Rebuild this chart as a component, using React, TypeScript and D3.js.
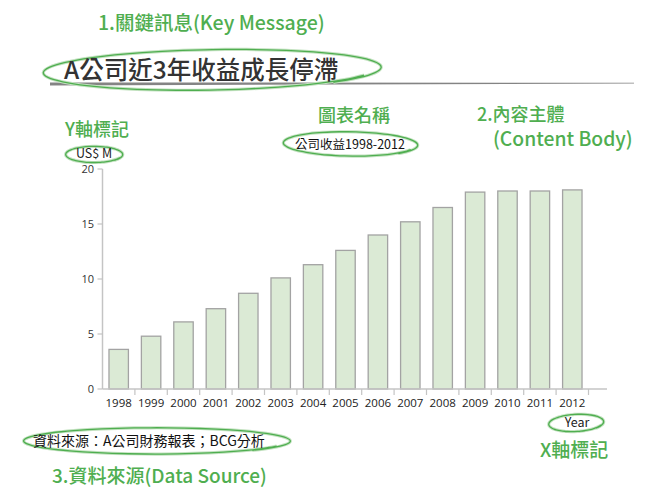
import React from "react";
import * as d3 from "d3";

// chart data
const years = ["1998", "1999", "2000", "2001", "2002", "2003", "2004", "2005", "2006", "2007", "2008", "2009", "2010", "2011", "2012"];
const revenue = [3.6, 4.8, 6.1, 7.3, 8.7, 10.1, 11.3, 12.6, 14.0, 15.2, 16.5, 17.9, 18.0, 18.0, 18.1];
const yTicks = [0, 5, 10, 15, 20];

const GREEN = "#4fae50";
const CJK = "'Noto Sans CJK TC', 'Noto Sans', sans-serif";

// a loose hand-drawn looking oval
const Oval = ({ cx, cy, rx, ry, rot = -2 }: { cx: number; cy: number; rx: number; ry: number; rot?: number }) => {
  const pts: [number, number][] = d3.range(0, 1.08, 0.02).map((t) => {
    const a = t * Math.PI * 2 + 0.4;
    const k = 1 + 0.03 * t;
    return [cx + rx * k * Math.cos(a), cy + ry * k * Math.sin(a)];
  });
  const line = d3.line().curve(d3.curveBasis);
  return (
    <g transform={`rotate(${rot}, ${cx}, ${cy})`}>
      <path d={line(pts) || ""} fill="none" stroke="#c3e2c0" strokeWidth={3.2} />
      <path d={line(pts) || ""} fill="none" stroke={GREEN} strokeWidth={1.3} />
    </g>
  );
};

const App = () => {
  const margin = { left: 102.5, top: 169, bottom: 389 };
  const x = d3
    .scaleBand()
    .domain(years)
    .range([margin.left, 588.5])
    .paddingInner(0.4)
    .paddingOuter(0.2);
  const y = d3.scaleLinear().domain([0, 20]).range([margin.bottom, margin.top]);
  const step = x.step();

  return (
    <svg
      width={667}
      height={504}
      style={{ position: "absolute", left: 0, top: 0, background: "#fff" }}
    >
      {/* key message */}
      <text x={98} y={30} fontFamily={CJK} fontSize={19.5} fontWeight={500} fill={GREEN}>
        1.關鍵訊息(Key Message)
      </text>
      <path d="M50,82.5 L634,82.8 L634,83.5 L50,85.5 Z" fill="#6f6f6f" opacity={0.85} />
      <Oval cx={211} cy={70} rx={166} ry={20} rot={-1} />
      <text x={64} y={79} fontFamily={CJK} fontSize={24.5} fontWeight={500} fill="#333">
        A公司近3年收益成長停滯
      </text>

      {/* annotations */}
      <text x={65} y={136} fontFamily={CJK} fontSize={18} fontWeight={500} fill={GREEN}>Y軸標記</text>
      <Oval cx={94} cy={154.5} rx={28} ry={8} rot={0} />
      <text x={94} y={158} textAnchor="middle" fontFamily={CJK} fontSize={12.5} fill="#222">US$ M</text>

      <text x={354} y={122} textAnchor="middle" fontFamily={CJK} fontSize={18} fontWeight={500} fill={GREEN}>圖表名稱</text>
      <Oval cx={350} cy={144} rx={66} ry={12} rot={1} />
      <text x={350} y={149} textAnchor="middle" fontFamily={CJK} fontSize={12.5} fill="#111">公司收益1998-2012</text>

      <text x={477} y={121} fontFamily={CJK} fontSize={18} fontWeight={500} fill={GREEN}>2.內容主體</text>
      <text x={493} y={146} fontFamily={CJK} fontSize={19.3} fontWeight={500} fill={GREEN}>(Content Body)</text>

      {/* bars */}
      {years.map((yr, i) => (
        <rect
          key={yr}
          x={x(yr)}
          y={y(revenue[i])}
          width={x.bandwidth()}
          height={y(0) - y(revenue[i])}
          fill="#dbead5"
          stroke="#a3a3a3"
          strokeWidth={1.3}
        />
      ))}

      {/* y axis */}
      <line x1={margin.left} x2={margin.left} y1={y(20)} y2={y(0)} stroke="#c4c4c4" strokeWidth={1.5} />
      {yTicks.map((t) => (
        <g key={t}>
          <line x1={margin.left - 5} x2={margin.left} y1={y(t)} y2={y(t)} stroke="#c4c4c4" strokeWidth={1.2} />
          <text x={94} y={y(t) + 4} textAnchor="end" fontFamily="'Open Sans', sans-serif" fontSize={11} fill="#333">
            {t}
          </text>
        </g>
      ))}

      {/* x axis */}
      <line x1={margin.left} x2={607} y1={y(0)} y2={y(0)} stroke="#c4c4c4" strokeWidth={1.5} />
      {years.map((yr, i) => (
        <g key={yr}>
          <line
            x1={x.range()[0] + (i + 1) * step}
            x2={x.range()[0] + (i + 1) * step}
            y1={y(0)}
            y2={y(0) + 6}
            stroke="#c4c4c4"
            strokeWidth={1.2}
          />
          <text
            x={(x(yr) || 0) + x.bandwidth() / 2}
            y={407}
            textAnchor="middle"
            fontFamily="'Open Sans', sans-serif"
            fontSize={11.5}
            fill="#222"
          >
            {yr}
          </text>
        </g>
      ))}

      <Oval cx={576} cy={423} rx={27} ry={8.5} rot={-3} />
      <text x={577} y={427} textAnchor="middle" fontFamily={CJK} fontSize={12.5} fill="#222">Year</text>
      <text x={540} y={457} fontFamily={CJK} fontSize={19} fontWeight={500} fill={GREEN}>X軸標記</text>

      {/* data source */}
      <Oval cx={156} cy={441} rx={131} ry={13} rot={0} />
      <text x={33} y={446} fontFamily={CJK} fontSize={14} fill="#111">資料來源：A公司財務報表；BCG分析</text>
      <text x={52} y={483} fontFamily={CJK} fontSize={19} fontWeight={500} fill={GREEN}>3.資料來源(Data Source)</text>
    </svg>
  );
};

export default App;
